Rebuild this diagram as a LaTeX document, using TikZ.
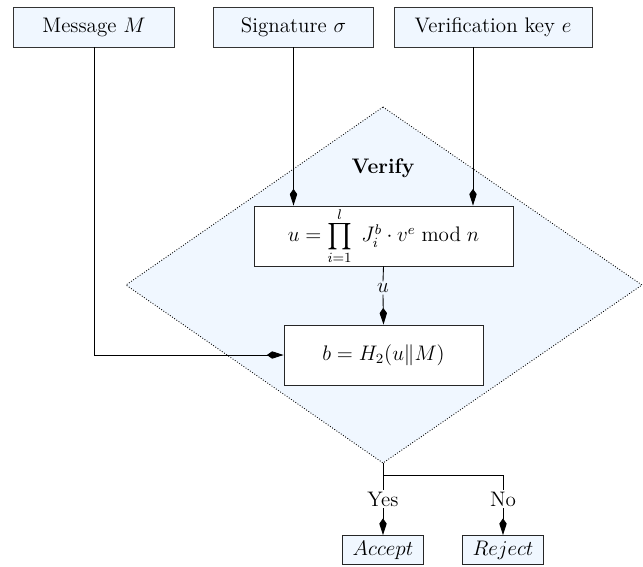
\documentclass[tikz,border=0pt]{standalone}
\usepackage{exscale}
\usepackage{graphicx}
\usetikzlibrary{arrows.meta}
\definecolor{lightfill}{RGB}{240,247,255}
\newcommand\myprod{\mathop{\vcenter{\hbox{\scalebox{1.25}{$\prod$}}}}}
\begin{document}
\begin{tikzpicture}[x=0.57pt,y=-0.57pt,
  every node/.style={font=\fontsize{12}{14.4}\selectfont},
  inbox/.style={draw=black!80,fill=lightfill,line width=0.5pt,inner sep=0pt,minimum height=40*0.57pt},
  calcbox/.style={draw=black!85,fill=white,line width=0.5pt,inner sep=0pt},
  outbox/.style={draw=black!85,fill=lightfill,line width=0.5pt,inner sep=0pt,minimum width=81*0.57pt,minimum height=29*0.57pt},
  arr/.style={-{Kite[length=9.5pt,width=4.2pt,inset=3pt]},line width=0.5pt},
  conn/.style={line width=0.5pt}]
\useasboundingbox (0,0) rectangle (643,567);
% diamond
\coordinate (dt) at (383,107);
\coordinate (dr) at (642,285);
\coordinate (db) at (383,463);
\coordinate (dl) at (126,285);
\filldraw[fill=lightfill,draw=black,densely dotted,line width=0.5pt] (dt) -- (dr) -- (db) -- (dl) -- cycle;
% inputs
\node[inbox,minimum width=161*0.57pt] (msg) at (94,27) {Message $M$};
\node[inbox,minimum width=160*0.57pt] (sig) at (293.5,27) {Signature $\sigma$};
\node[inbox,minimum width=198*0.57pt] (key) at (493,27) {Verification key $e$};
\node[font=\fontsize{12}{14.4}\selectfont\bfseries] (verify) at (383,168) {Verify};
\node[calcbox,minimum width=259*0.57pt,minimum height=60*0.57pt] (ubox) at (383.5,236)
  {$u=\myprod\limits_{i=1}^{l}\; J_i^b\cdot v^e \bmod n$};
\node[inner sep=1pt] (ulab) at (383,288) {$u$};
\node[calcbox,minimum width=199*0.57pt,minimum height=60*0.57pt] (bbox) at (383.5,355)
  {$b=H_2(u\|M)$};
\coordinate (kx) at (473,0);
\coordinate (split) at (383,475);
\coordinate (nosplit) at (503,475);
\node[inner sep=1pt] (yes) at (383,499) {Yes};
\node[inner sep=1pt] (no) at (503,499) {No};
\node[outbox] (accept) at (383,550) {$Accept$};
\node[outbox] (reject) at (503,550) {$Reject$};
% connectors
\draw[arr] (sig.south) -- (sig.south |- ubox.north);
\draw[arr] (key.south -| kx) -- (ubox.north -| kx);
\draw[conn] (ubox.south) -- (ulab.north);
\draw[arr] (ulab.south) -- (bbox.north);
\draw[arr] (msg.south) |- (bbox.west);
\draw[conn] (db) -- (split) -- (nosplit) -- (no.north);
\draw[conn] (split) -- (yes.north);
\draw[arr] (yes.south) -- (accept.north);
\draw[arr] (no.south) -- (reject.north);
\end{tikzpicture}
\end{document}
